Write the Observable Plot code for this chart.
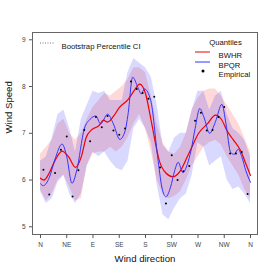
<!DOCTYPE html>
<html>
<head>
<meta charset="utf-8">
<script src="https://cdn.jsdelivr.net/npm/d3@7"></script>
<script src="https://cdn.jsdelivr.net/npm/@observablehq/plot@0.6"></script>
<style>
  html, body { margin: 0; padding: 0; background: #fff; }
  #chart { width: 274px; height: 274px; }
</style>
</head>
<body>
<div id="chart"></div>
<script>
// ---- data ----
const tickDirs = [0, 45, 90, 135, 180, 225, 270, 315, 360];
const tickLabels = ["N", "NE", "E", "SE", "S", "SW", "W", "NW", "N"];
const yTicks = [5, 6, 7, 8, 9];

const empDir = [5,15,25,35,45,55,65,75,85,95,105,115,125,135,145,155,165,175,185,195,205,215,225,235,245,255,265,275,285,295,305,315,325,335,345,355];
const empVal = [6.22,5.69,6.15,6.65,6.93,5.65,6.21,7.07,6.83,7.35,7.13,7.37,7.06,6.97,7.10,8.11,7.95,7.86,7.74,7.78,6.27,5.50,6.53,6.00,6.19,6.30,7.27,7.44,7.06,7.07,7.35,7.56,6.57,6.57,6.60,5.70];

const bwhrDir = [0,6,15,25,37,48,60,70,78,88,100,108,115,125,135,150,160,170,180,190,204,215,227,240,251,260,270,286,300,310,320,330,343,352,360];
const bwhrVal = [6.04,6.00,6.15,6.42,6.62,6.50,6.27,6.50,6.90,7.08,7.16,7.28,7.24,7.36,7.55,7.72,7.90,8.05,7.85,7.25,6.40,6.15,6.07,6.20,6.48,6.72,6.98,7.20,7.39,7.30,7.05,6.87,6.63,6.35,6.10];

const bpqrDir = [0,5,15,25,37,45,54,62,75,85,95,103,115,125,136,145,150,158,167,173,178,189,201,208,215,223,230,236,244,252,258,265,273,280,290,300,311,318,326,332,339,345,352,360];
const bpqrVal = [5.92,5.88,6.05,6.45,6.77,6.50,5.93,6.20,7.09,7.30,7.37,7.20,7.41,7.20,6.87,7.05,7.40,8.20,7.98,7.84,7.95,7.70,6.48,5.85,5.64,5.85,6.20,6.38,6.16,6.35,6.63,7.10,7.53,7.35,7.00,7.25,7.62,7.20,6.59,6.55,6.66,6.50,6.20,5.95];

const bandDir = [0,10,20,30,40,50,60,70,80,90,100,110,120,130,140,150,160,170,180,190,200,210,220,230,240,250,260,270,280,290,300,310,320,330,340,350,360];
const bwhrLo = [5.80,5.55,5.70,6.00,6.10,5.85,5.55,5.60,6.30,6.55,6.60,6.60,6.70,6.60,6.70,6.90,7.20,7.40,7.10,6.60,6.00,5.70,5.60,5.65,5.75,6.00,6.30,6.50,6.70,6.80,6.85,6.75,6.50,6.30,6.10,5.80,5.60];
const bwhrHi = [6.55,6.70,6.85,7.20,7.30,7.00,6.85,7.00,7.30,7.55,7.70,7.85,7.80,7.90,8.00,8.15,8.40,8.40,8.30,7.80,7.20,6.80,6.60,6.55,6.70,7.00,7.50,7.75,7.90,7.95,7.95,7.80,7.60,7.40,7.20,6.90,6.60];
const bpqrLo = [5.75,5.50,5.60,5.95,6.10,5.70,5.50,5.70,6.30,6.60,6.50,6.60,6.40,6.25,6.20,6.40,7.10,7.30,7.10,6.80,5.90,5.25,5.15,5.40,5.60,5.70,6.10,6.80,6.70,6.30,6.40,6.50,6.00,5.80,5.85,5.70,5.50];
const bpqrHi = [6.40,6.50,6.90,7.40,7.50,7.10,6.60,7.30,7.60,7.90,7.85,7.90,7.70,7.70,7.70,8.30,8.60,8.50,8.40,8.20,7.60,6.75,6.60,6.90,7.00,7.00,7.50,7.90,7.90,7.50,7.80,7.90,7.40,7.10,7.00,6.85,6.50];

// ---- tables ----
const bands = bandDir.map((d, i) => ({d, rlo: bwhrLo[i], rhi: bwhrHi[i], blo: bpqrLo[i], bhi: bpqrHi[i]}));
const bwhr = bwhrDir.map((d, i) => ({d, v: bwhrVal[i]}));
const bpqr = bpqrDir.map((d, i) => ({d, v: bpqrVal[i]}));
const emp = empDir.map((d, i) => ({d, v: empVal[i]}));

const FONT = "'Liberation Sans', Arial, Helvetica, sans-serif";

const plot = Plot.plot({
  width: 274,
  height: 274,
  marginLeft: 32,
  marginRight: 17,
  marginTop: 32,
  marginBottom: 40,
  style: {fontFamily: FONT, background: "#fff"},
  x: {domain: [-13.7, 372]},
  y: {domain: [4.835, 9.156]},
  marks: [
    Plot.areaY(bands, {x: "d", y1: "rlo", y2: "rhi", fill: "rgb(255,0,0)", fillOpacity: 0.15}),
    Plot.areaY(bands, {x: "d", y1: "blo", y2: "bhi", fill: "rgb(0,0,255)", fillOpacity: 0.15}),
    Plot.line(bwhr, {x: "d", y: "v", stroke: "#ee0000", strokeWidth: 1.2, curve: "monotone-x"}),
    Plot.line(bpqr, {x: "d", y: "v", stroke: "#3333ff", strokeWidth: 1, curve: "monotone-x"}),
    Plot.dot(emp, {x: "d", y: "v", r: 1, fill: "#000", stroke: "none"}),
    Plot.frame({stroke: "#666", strokeWidth: 1}),
    Plot.axisX({ticks: tickDirs, tickFormat: (d) => tickLabels[tickDirs.indexOf(d)], tickSize: 4, tickPadding: 4, fontSize: 6.5, label: null, stroke: "#555", color: "#444"}),
    Plot.axisY({ticks: yTicks, tickFormat: (d) => String(d), tickSize: 3, tickPadding: 4, fontSize: 6.5, label: null, stroke: "#555", color: "#444"}),
    Plot.text(["Wind direction"], {frameAnchor: "bottom", dy: 27, fontSize: 9.6, fill: "#111"}),
    Plot.text(["Wind Speed"], {frameAnchor: "left", dx: -24, rotate: -90, fontSize: 9.6, fill: "#111"}),
    Plot.text(["Bootstrap Percentile CI"], {frameAnchor: "top-left", dx: 29, dy: 11, textAnchor: "start", fontSize: 7.7, fill: "#111"}),
    Plot.text(["Quantiles"], {frameAnchor: "top-right", dx: -32, dy: 7, textAnchor: "middle", fontSize: 7.7, fill: "#111"}),
    Plot.text(["BWHR"], {frameAnchor: "top-left", dx: 186, dy: 20, textAnchor: "start", fontSize: 7.7, fill: "#111"}),
    Plot.text(["BPQR"], {frameAnchor: "top-left", dx: 186, dy: 30, textAnchor: "start", fontSize: 7.7, fill: "#111"}),
    Plot.text(["Empirical"], {frameAnchor: "top-left", dx: 186, dy: 39, textAnchor: "start", fontSize: 7.7, fill: "#111"})
  ]
});

// legend symbols (pixel layout only)
const svg = d3.select(plot);
const g = svg.append("g");
g.append("line").attr("x1", 40).attr("x2", 54).attr("y1", 43).attr("y2", 43)
  .attr("stroke", "#777").attr("stroke-width", 1).attr("stroke-dasharray", "1,1.5");
g.append("line").attr("x1", 195).attr("x2", 210).attr("y1", 52).attr("y2", 52)
  .attr("stroke", "#ee0000").attr("stroke-width", 1);
g.append("line").attr("x1", 195).attr("x2", 210).attr("y1", 62).attr("y2", 62)
  .attr("stroke", "#3333ff").attr("stroke-width", 1);
g.append("circle").attr("cx", 203).attr("cy", 71).attr("r", 1.5).attr("fill", "#000");

document.getElementById("chart").appendChild(plot);
</script>
</body>
</html>
